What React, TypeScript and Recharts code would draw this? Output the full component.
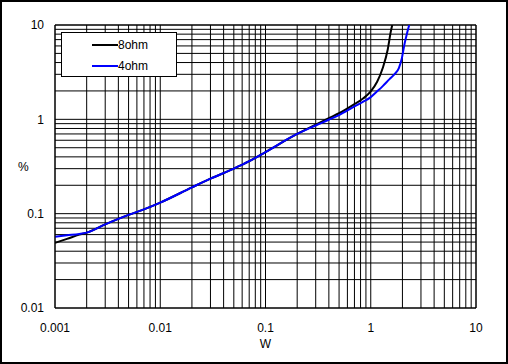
import {
  LineChart,
  Line,
  XAxis,
  YAxis,
  CartesianGrid,
  Legend,
  ReferenceLine,
} from "recharts";

// output power (W) and THD+N (%)
const watts8 = [
  0.001, 0.0013, 0.0017, 0.002, 0.003, 0.005, 0.007, 0.01, 0.02, 0.03, 0.05,
  0.07, 0.1, 0.2, 0.3, 0.4, 0.5, 0.7, 0.85, 1, 1.15, 1.3, 1.45, 1.55, 1.6,
];
const thd8 = [
  0.049, 0.054, 0.06, 0.063, 0.077, 0.097, 0.111, 0.131, 0.19, 0.235, 0.3,
  0.36, 0.45, 0.7, 0.88, 1.03, 1.16, 1.45, 1.67, 1.98, 2.5, 3.5, 5.5, 8.5, 10,
];

const watts4 = [
  0.001, 0.0013, 0.0017, 0.002, 0.003, 0.005, 0.007, 0.01, 0.02, 0.03, 0.05,
  0.07, 0.1, 0.2, 0.3, 0.4, 0.5, 0.7, 0.85, 1, 1.15, 1.3, 1.5, 1.7, 1.85, 1.97,
  2.1, 2.2, 2.32,
];
const thd4 = [
  0.057, 0.059, 0.061, 0.063, 0.077, 0.097, 0.111, 0.131, 0.19, 0.235, 0.3,
  0.36, 0.45, 0.7, 0.86, 0.99, 1.11, 1.37, 1.54, 1.72, 1.98, 2.25, 2.65, 3.05,
  3.5, 4.4, 6.4, 8, 10,
];

const seriesNames = ["8ohm", "4ohm"];

const xDecades = [0.001, 0.01, 0.1, 1, 10];
const yDecades = [0.01, 0.1, 1, 10];
const mantissas = [1, 2, 3, 4, 5, 6, 7, 8, 9];

const data8 = watts8.map((w, i) => ({ w, v: thd8[i] }));
const data4 = watts4.map((w, i) => ({ w, v: thd4[i] }));

function gridTicks(decades: number[]) {
  const out: number[] = [];
  decades.forEach((d, i) => {
    if (i === decades.length - 1) {
      out.push(d);
      return;
    }
    mantissas.forEach((m) => out.push(+(d * m).toPrecision(3)));
  });
  return out;
}

const xTicks = gridTicks(xDecades);
const yTicks = gridTicks(yDecades);

const fontFamily = "Arial, 'Liberation Sans', sans-serif";
const tickStyle = { fill: "#000", fontSize: 12, fontFamily } as const;

const fmtDecade = (decades: number[]) => (v: number) =>
  decades.some((d) => Math.abs(d - v) < d * 1e-6) ? String(v) : "";

function LegendBox(props: any) {
  const items = [...(props.payload || [])].sort(
    (a: any, b: any) =>
      seriesNames.indexOf(String(a.value)) - seriesNames.indexOf(String(b.value))
  );
  return (
    <div
      style={{
        width: 114,
        height: 43,
        border: "1px solid #000",
        background: "#fff",
        position: "relative",
        fontFamily,
        fontSize: 12,
      }}
    >
      {items.map((it: any, i: number) => (
        <div
          key={it.value}
          style={{
            position: "absolute",
            left: 30,
            top: 4 + i * 21,
            height: 16,
            display: "flex",
            alignItems: "center",
          }}
        >
          <svg width={26} height={4} style={{ display: "block" }}>
            <line x1={0} y1={2} x2={26} y2={2} stroke={it.color} strokeWidth={2} />
          </svg>
          <span style={{ color: "#000", lineHeight: "16px" }}>{it.value}</span>
        </div>
      ))}
    </div>
  );
}

export default function App() {
  return (
    <div
      style={{
        position: "absolute",
        left: 0,
        top: 0,
        width: 508,
        height: 364,
        background: "#fff",
        border: "2px solid #000",
        boxSizing: "border-box",
      }}
    >
      <div style={{ position: "absolute", left: -2, top: -2 }}>
        <LineChart
          width={508}
          height={364}
          margin={{ top: 25, right: 32, bottom: 0, left: 0 }}
        >
          <CartesianGrid stroke="#000" strokeWidth={1} />
          <XAxis
            dataKey="w"
            type="number"
            scale="log"
            domain={[0.001, 10]}
            allowDataOverflow
            ticks={xTicks}
            interval={0}
            tickFormatter={fmtDecade(xDecades)}
            tick={tickStyle}
            tickLine={false}
            tickSize={0}
            tickMargin={15}
            axisLine={{ stroke: "#000" }}
            height={56}
            label={{
              value: "W",
              position: "insideBottom",
              offset: 16,
              fill: "#000",
              fontSize: 12,
              fontFamily,
            }}
          />
          <YAxis
            dataKey="v"
            type="number"
            scale="log"
            domain={[0.01, 10]}
            allowDataOverflow
            ticks={yTicks}
            interval={0}
            tickFormatter={fmtDecade(yDecades)}
            tick={tickStyle}
            tickLine={false}
            tickSize={0}
            tickMargin={11}
            axisLine={{ stroke: "#000" }}
            width={55}
            label={{
              value: "%",
              position: "insideLeft",
              offset: 18,
              fill: "#000",
              fontSize: 12,
              fontFamily,
            }}
          />
          <ReferenceLine x={10} stroke="#000" />
          <ReferenceLine y={10} stroke="#000" />
          <Legend
            layout="vertical"
            align="center"
            verticalAlign="middle"
            content={LegendBox}
            wrapperStyle={{ left: 61, top: 32, width: 116, height: 45 }}
          />
          <Line
            data={data8}
            dataKey="v"
            name="8ohm"
            type="monotone"
            stroke="#000"
            strokeWidth={2}
            dot={false}
            isAnimationActive={false}
          />
          <Line
            data={data4}
            dataKey="v"
            name="4ohm"
            type="monotone"
            stroke="#0000ff"
            strokeWidth={2}
            dot={false}
            isAnimationActive={false}
          />
        </LineChart>
      </div>
    </div>
  );
}
